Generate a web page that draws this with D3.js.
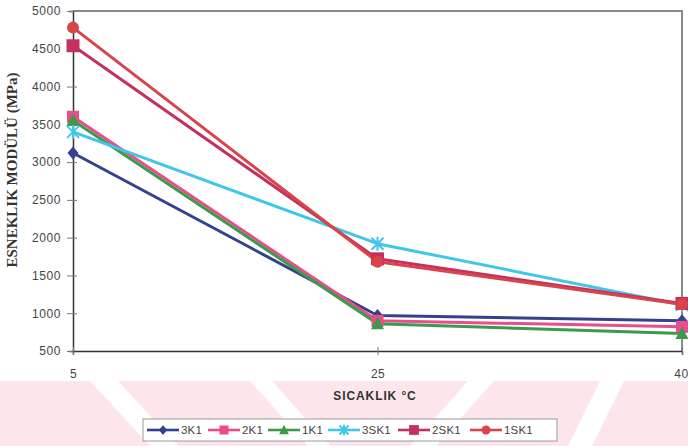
<!DOCTYPE html>
<html>
<head>
<meta charset="utf-8">
<script src="https://cdn.jsdelivr.net/npm/d3@7"></script>
<style>
  html, body { margin: 0; padding: 0; background: #fff; }
  svg { display: block; }
</style>
</head>
<body>
<svg id="chart" width="688" height="446"></svg>
<script>
// Temperatures (°C) on the category axis
const temperatures = ["5", "25", "40"];

// Elastic modulus (MPa) for each mix
const series3K1  = [3120, 970, 900];
const series2K1  = [3600, 900, 820];
const series1K1  = [3550, 860, 730];
const series3SK1 = [3400, 1920, 1110];
const series2SK1 = [4540, 1720, 1130];
const series1SK1 = [4780, 1680, 1120];

const seriesNames = ["3K1", "2K1", "1K1", "3SK1", "2SK1", "1SK1"];
const yTicks = [500, 1000, 1500, 2000, 2500, 3000, 3500, 4000, 4500, 5000];

const seriesList = [
  { name: "3K1",  values: series3K1,  color: "#34418f", marker: "diamond" },
  { name: "2K1",  values: series2K1,  color: "#ea4c8c", marker: "square" },
  { name: "1K1",  values: series1K1,  color: "#3b9a4c", marker: "triangle" },
  { name: "3SK1", values: series3SK1, color: "#40c6ea", marker: "star" },
  { name: "2SK1", values: series2SK1, color: "#c4305f", marker: "bigsquare" },
  { name: "1SK1", values: series1SK1, color: "#d8444a", marker: "circle" }
];

const svg = d3.select("#chart");

// faint watermark band along the bottom
const wm = svg.append("g").attr("class", "watermark");
wm.append("rect").attr("x", 0).attr("y", 381).attr("width", 688).attr("height", 65).attr("fill", "#fce6eb");
const gaps = [
  [[90, 381], [118, 381], [178, 446], [150, 446]],
  [[250, 381], [272, 381], [330, 446], [308, 446]],
  [[468, 381], [494, 381], [436, 446], [410, 446]],
  [[600, 381], [624, 381], [592, 446], [568, 446]]
];
gaps.forEach(p => wm.append("polygon").attr("points", p.map(d => d.join(",")).join(" ")).attr("fill", "#fff"));

const plot = { left: 73, right: 682, top: 11, bottom: 351 };

const x = d3.scalePoint().domain(temperatures).range([plot.left, plot.right]);
const y = d3.scaleLinear().domain([500, 5000]).range([plot.bottom, plot.top]);

const labelFont = "Liberation Sans, Arial, sans-serif";

// plot frame: top and right border
svg.append("path")
  .attr("d", `M${plot.left},${plot.top}H${plot.right}V${plot.bottom}`)
  .attr("fill", "none").attr("stroke", "#8a8a8a").attr("stroke-width", 2);

// Y axis
const yAxis = d3.axisLeft(y).tickValues(yTicks).tickSize(4).tickPadding(8).tickFormat(d3.format("d"));
const gy = svg.append("g").attr("transform", `translate(${plot.left},0)`).call(yAxis);
gy.select(".domain").attr("stroke", "#333").attr("stroke-width", 1.5);
gy.selectAll(".tick line").attr("stroke", "#777").attr("x2", -6).attr("x1", 4);
gy.selectAll(".tick text")
  .attr("font-family", labelFont)
  .attr("font-size", 12).attr("fill", "#444").attr("letter-spacing", "0.6px");

// X axis
const xAxis = d3.axisBottom(x).tickSize(4).tickPadding(14);
const gx = svg.append("g").attr("transform", `translate(0,${plot.bottom})`).call(xAxis);
gx.select(".domain").attr("stroke", "#333").attr("stroke-width", 1.5);
gx.selectAll(".tick line").attr("stroke", "#777").attr("y1", -4).attr("y2", 4);
gx.selectAll(".tick text")
  .attr("font-family", labelFont)
  .attr("font-size", 12).attr("fill", "#444").attr("letter-spacing", "0.4px");
// the last label sits against the right edge of the page
gx.selectAll(".tick text").filter(d => d === temperatures[temperatures.length - 1])
  .attr("text-anchor", "end").attr("dx", "6px");

// axis titles
svg.append("text")
  .attr("x", 375).attr("y", 400).attr("text-anchor", "middle")
  .attr("font-family", labelFont)
  .attr("font-weight", "bold").attr("font-size", 12).attr("fill", "#333")
  .attr("letter-spacing", "0.9px")
  .text("SICAKLIK °C");

svg.append("text")
  .attr("transform", "translate(17,170) rotate(-90)")
  .attr("text-anchor", "middle")
  .attr("font-family", "Liberation Serif, Times New Roman, serif")
  .attr("font-weight", "bold").attr("font-size", 15).attr("fill", "#333")
  .text("ESNEKLIK MODÜLÜ (MPa)");

// marker shapes
function drawMarker(g, type, cx, cy, color, k = 1) {
  switch (type) {
    case "diamond":
      g.append("path").attr("d", `M${cx},${cy - 6.5 * k}L${cx + 5.5 * k},${cy}L${cx},${cy + 6.5 * k}L${cx - 5.5 * k},${cy}Z`).attr("fill", color);
      break;
    case "square":
      g.append("rect").attr("x", cx - 6 * k).attr("y", cy - 6 * k).attr("width", 12 * k).attr("height", 12 * k).attr("fill", color);
      break;
    case "bigsquare":
      g.append("rect").attr("x", cx - 6.5 * k).attr("y", cy - 6.5 * k).attr("width", 13 * k).attr("height", 13 * k).attr("fill", color);
      break;
    case "triangle":
      g.append("path").attr("d", `M${cx},${cy - 7 * k}L${cx + 6.5 * k},${cy + 5.5 * k}L${cx - 6.5 * k},${cy + 5.5 * k}Z`).attr("fill", color);
      break;
    case "circle":
      g.append("circle").attr("cx", cx).attr("cy", cy).attr("r", 6 * k).attr("fill", color);
      break;
    case "star":
      g.append("path")
        .attr("d", `M${cx - 6 * k},${cy - 6 * k}L${cx + 6 * k},${cy + 6 * k}M${cx - 6 * k},${cy + 6 * k}L${cx + 6 * k},${cy - 6 * k}M${cx},${cy - 7 * k}V${cy + 7 * k}`)
        .attr("stroke", color).attr("stroke-width", 2).attr("fill", "none");
      break;
  }
}

const line = d3.line().x((d, i) => x(temperatures[i])).y(d => y(d));

const gLines = svg.append("g");
seriesList.forEach(s => {
  gLines.append("path")
    .datum(s.values)
    .attr("d", line)
    .attr("fill", "none")
    .attr("stroke", s.color)
    .attr("stroke-width", 3)
    .attr("stroke-linejoin", "round");
});
seriesList.forEach(s => {
  const g = gLines.append("g");
  s.values.forEach((v, i) => drawMarker(g, s.marker, x(temperatures[i]), y(v), s.color));
});

// legend
const legend = svg.append("g");
legend.append("rect")
  .attr("x", 143).attr("y", 419).attr("width", 414).attr("height", 22)
  .attr("fill", "#fff").attr("stroke", "#9a9a9a").attr("stroke-width", 1);
const itemX = [147, 208, 268, 328, 398, 470];
seriesList.forEach((s, i) => {
  const lx = itemX[i];
  const g = legend.append("g");
  g.append("line").attr("x1", lx).attr("x2", lx + 32).attr("y1", 430).attr("y2", 430)
    .attr("stroke", s.color).attr("stroke-width", 2.6);
  drawMarker(g, s.marker, lx + 16, 430, s.color, 0.75);
  g.append("text").attr("x", lx + 34).attr("y", 434)
    .attr("font-family", labelFont)
    .attr("font-size", 11.5).attr("fill", "#444").attr("letter-spacing", "0.2px")
    .text(seriesNames[i]);
});
</script>
</body>
</html>
